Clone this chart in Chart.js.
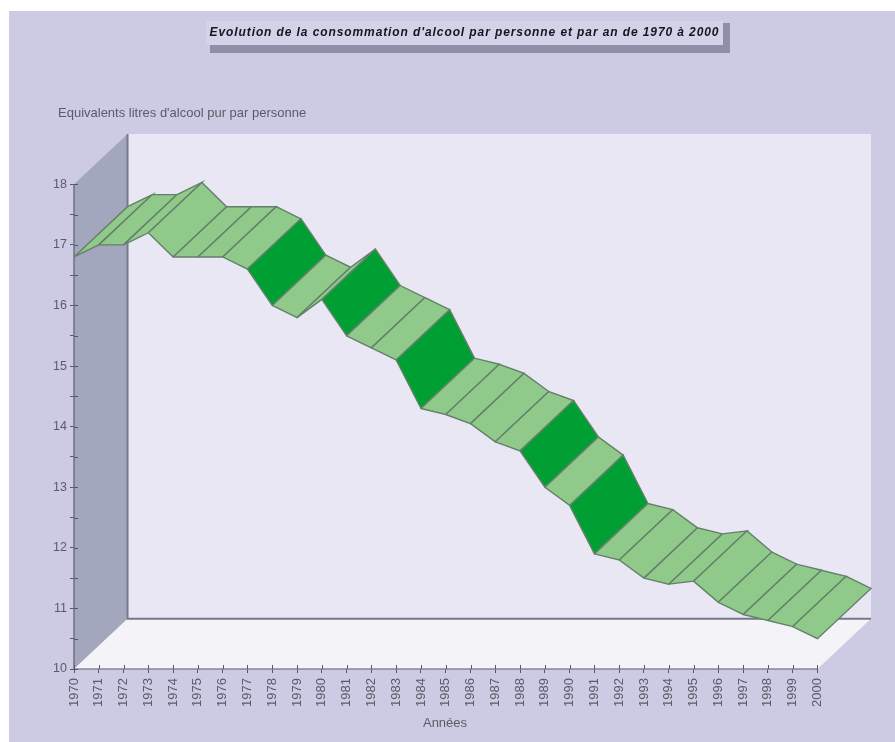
<!DOCTYPE html>
<html lang="fr">
<head>
<meta charset="utf-8">
<title>Consommation d'alcool 1970-2000</title>
<style>
  html, body { margin: 0; padding: 0; background: #fff; }
  #wrap { position: relative; width: 895px; height: 742px; overflow: hidden; }
</style>
</head>
<body>
<div id="wrap"><canvas id="chart" width="895" height="742"></canvas></div>
<script src="https://cdn.jsdelivr.net/npm/chart.js@4/dist/chart.umd.min.js"></script>
<script>
// Litres of pure alcohol per person, per year
const years = [1970,1971,1972,1973,1974,1975,1976,1977,1978,1979,
               1980,1981,1982,1983,1984,1985,1986,1987,1988,1989,
               1990,1991,1992,1993,1994,1995,1996,1997,1998,1999,2000];
const litres = [16.8,17.0,17.0,17.2,16.8,16.8,16.8,16.6,16.0,15.8,
                16.1,15.5,15.3,15.1,14.3,14.2,14.05,13.75,13.6,13.0,
                12.7,11.9,11.8,11.5,11.4,11.45,11.1,10.9,10.8,10.7,10.5];
const valueTicks = [10,10.5,11,11.5,12,12.5,13,13.5,14,14.5,15,15.5,16,16.5,17,17.5,18];

const chartTitle = "Evolution de la consommation d'alcool par personne et par an de 1970 à 2000";
const valueTitle = "Equivalents litres d'alcool pur par personne";
const yearTitle = "Années";

// Depth of the 3D box, in axis units
const depthYears = 2.16;
const depthLitres = 0.83;
const steepDrop = 0.5;

const yearMin = years[0], yearMax = years[years.length - 1];
const valueMin = valueTicks[0], valueMax = valueTicks[valueTicks.length - 1];

function polygon(points, fill, stroke, width, order) {
  return {
    type: 'scatter', showLine: true, fill: fill ? 'shape' : false, clip: false,
    data: points.map(p => ({ x: p[0], y: p[1] })),
    backgroundColor: fill || 'transparent',
    borderColor: stroke || 'transparent',
    borderWidth: width || 0,
    pointRadius: 0, pointHoverRadius: 0, tension: 0, order
  };
}

const backX = yearMin + depthYears, backRight = yearMax + depthYears;
const backY = valueMin + depthLitres, backTop = valueMax + depthLitres;

// Walls and floor of the box
const datasets = [
  polygon([[backX, backY],[backRight, backY],[backRight, backTop],[backX, backTop],[backX, backY]], '#e8e7f3', null, 0, 1000),
  polygon([[yearMin, valueMin],[backX, backY],[backX, backTop],[yearMin, valueMax],[yearMin, valueMin]], '#a2a7bd', null, 0, 999),
  polygon([[yearMin, valueMin],[yearMax, valueMin],[backRight, backY],[backX, backY],[yearMin, valueMin]], '#f3f3f8', null, 0, 998),
  polygon([[backX, backTop],[backX, backY],[backRight, backY]], null, '#77798a', 2, 997),
  polygon([[yearMin, valueMin],[yearMin, valueMax]], null, '#6f7183', 1.5, 996),
  polygon([[yearMin, valueMin],[yearMax, valueMin]], null, '#85869a', 1.5, 995)
];

// Ribbon, one panel per year; later years lie over earlier ones
for (let i = 0; i < years.length - 1; i++) {
  const a = litres[i], b = litres[i + 1];
  const x0 = years[i], x1 = years[i + 1];
  const colour = a - b >= steepDrop ? '#009f34' : '#8fca8a';
  datasets.push(polygon([
    [x0, a], [x1, b], [x1 + depthYears, b + depthLitres], [x0 + depthYears, a + depthLitres], [x0, a]
  ], colour, '#64806a', 1.4, 500 - i));
}

const frame = {
  id: 'frame',
  beforeDraw(chart) {
    const { ctx } = chart;
    ctx.save();
    ctx.fillStyle = '#cdcbe3';
    ctx.fillRect(9, 11, 886, 731);
    // Title plate with its drop shadow
    ctx.fillStyle = '#8f8fa6';
    ctx.fillRect(210, 45, 520, 8);
    ctx.fillRect(723, 23, 7, 30);
    ctx.fillStyle = '#d4d2e9';
    ctx.fillRect(206, 21, 517, 24);
    ctx.restore();
  },
  afterDraw(chart) {
    const { ctx, scales: { x, y } } = chart;
    ctx.save();
    // Tick marks run across both axes
    ctx.strokeStyle = '#55566a';
    ctx.lineWidth = 1;
    ctx.beginPath();
    y.ticks.forEach(t => {
      const py = Math.round(y.getPixelForValue(t.value)) + 0.5;
      ctx.moveTo(x.left, py); ctx.lineTo(x.left + 4, py);
    });
    x.ticks.forEach(t => {
      const px = Math.round(x.getPixelForValue(t.value)) + 0.5;
      ctx.moveTo(px, y.bottom); ctx.lineTo(px, y.bottom - 4);
    });
    ctx.stroke();

    ctx.textBaseline = 'middle';
    ctx.fillStyle = '#15151f';
    ctx.font = 'italic bold 12px "Liberation Sans"';
    ctx.letterSpacing = '0.9px';
    ctx.textAlign = 'center';
    ctx.fillText(chartTitle, 464.5, 33);
    ctx.letterSpacing = '0px';

    ctx.fillStyle = '#5a5a68';
    ctx.font = '13px "Liberation Sans"';
    ctx.textAlign = 'left';
    ctx.fillText(valueTitle, 58, 113);
    ctx.textAlign = 'center';
    ctx.fillText(yearTitle, 445, 723);
    ctx.restore();
  }
};

Chart.defaults.font.family = '"Liberation Sans", Arial, sans-serif';

new Chart(document.getElementById('chart'), {
  type: 'scatter',
  data: { datasets },
  options: {
    responsive: false,
    animation: false,
    events: [],
    layout: { padding: { top: 134, right: 24, left: 0, bottom: 0 } },
    plugins: { legend: { display: false }, tooltip: { enabled: false } },
    scales: {
      x: {
        type: 'linear',
        min: yearMin,
        max: backRight,
        afterBuildTicks(scale) { scale.ticks = years.map(value => ({ value })); },
        afterFit(scale) { scale.height = 73; },
        grid: { drawOnChartArea: false, tickLength: 4, color: '#55566a', lineWidth: 1 },
        border: { display: false },
        ticks: {
          autoSkip: false, minRotation: 90, maxRotation: 90, padding: 5,
          color: '#5a5a68', font: { size: 13 },
          callback: v => String(v)
        }
      },
      y: {
        type: 'linear',
        min: valueMin,
        max: backTop,
        afterBuildTicks(scale) { scale.ticks = valueTicks.map(value => ({ value })); },
        afterFit(scale) { scale.width = 74; },
        grid: { drawOnChartArea: false, tickLength: 4, color: '#55566a', lineWidth: 1 },
        border: { display: false },
        ticks: {
          autoSkip: false, padding: 3, color: '#5a5a68', font: { size: 12.5 },
          callback: v => Number.isInteger(v) ? String(v) : ''
        }
      }
    }
  },
  plugins: [frame]
});
</script>
</body>
</html>
